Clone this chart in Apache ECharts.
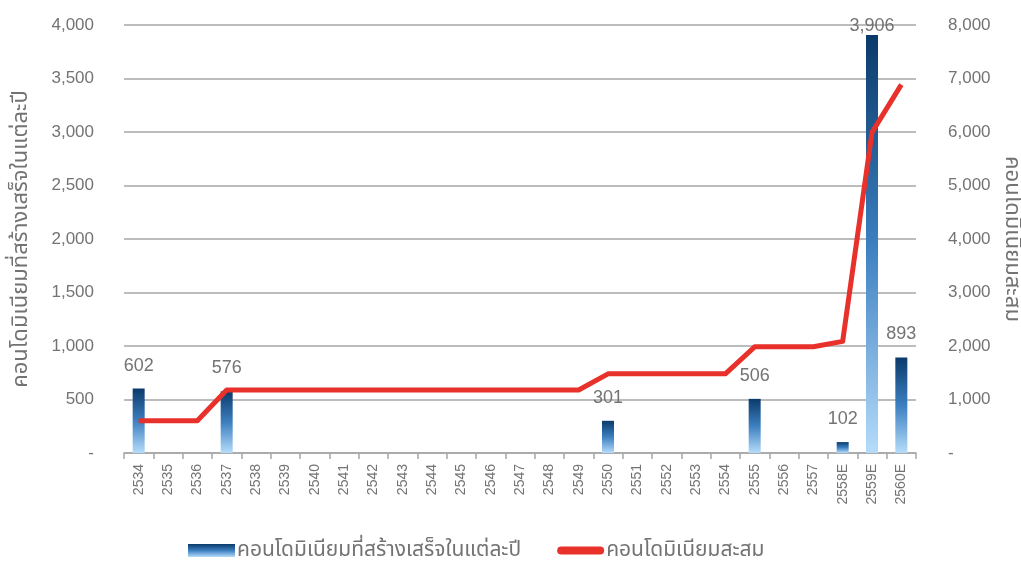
<!DOCTYPE html>
<html>
<head>
<meta charset="utf-8">
<script src="https://cdn.jsdelivr.net/npm/echarts@6/dist/echarts.min.js"></script>
<style>
  html, body { margin: 0; padding: 0; background: #fff; }
  #chart { width: 1021px; height: 565px; }
</style>
</head>
<body>
<div id="chart"></div>
<script>
// Years (Buddhist Era); E = estimate
const years = ['2534','2535','2536','2537','2538','2539','2540','2541','2542','2543','2544','2545','2546','2547','2548','2549','2550','2551','2552','2553','2554','2555','2556','2557','2558E','2559E','2560E'];
// Condominiums completed each year
const completed = [602,0,0,576,0,0,0,0,0,0,0,0,0,0,0,0,301,0,0,0,0,506,0,0,102,3906,893];
// Cumulative condominiums
const cumulative = [602,602,602,1178,1178,1178,1178,1178,1178,1178,1178,1178,1178,1178,1178,1178,1479,1479,1479,1479,1479,1985,1985,1985,2087,5993,6886];

const seriesNames = ['คอนโดมิเนียมที่สร้างเสร็จในแต่ละปี', 'คอนโดมิเนียมสะสม'];

const FONT = '"Liberation Sans", Arial, "Noto Sans Thai", "Noto Sans", sans-serif';
const TEXT = '#737373';
const GRID = '#a6a6a6';

const fmt = v => v === 0 ? '-' : v.toLocaleString('en-US');
const peak = Math.max(...completed);

const chart = echarts.init(document.getElementById('chart'));
chart.setOption({
  animation: false,
  textStyle: { fontFamily: FONT },
  grid: { left: 124, right: 105, top: 25, bottom: 112, outerBoundsMode: 'none', containLabel: false },
  legend: {
    bottom: -1,
    left: 183,
    itemGap: 36,
    itemWidth: 47,
    itemHeight: 13,
    textStyle: { fontSize: 21, color: TEXT, fontFamily: FONT, padding: [0, 0, 0, -3] },
    data: [
      { name: seriesNames[0], icon: 'rect' },
      { name: seriesNames[1], icon: 'path://M4,0 H43 A4,4 0 0 1 43,8 H4 A4,4 0 0 1 4,0 Z' }
    ]
  },
  xAxis: {
    type: 'category',
    data: years,
    axisLine: { lineStyle: { color: GRID, width: 1.5 } },
    axisTick: { show: true, length: 6, lineStyle: { color: GRID, width: 1.5 } },
    axisLabel: { rotate: 90, color: TEXT, fontSize: 14, margin: 11 },
    splitLine: { show: false }
  },
  yAxis: [
    {
      type: 'value', min: 0, max: 4000, interval: 500,
      name: seriesNames[0],
      nameLocation: 'middle', nameRotate: 90, nameGap: 92,
      nameTextStyle: { color: TEXT, fontSize: 22 },
      axisLine: { show: false },
      axisTick: { show: false },
      axisLabel: { color: TEXT, fontSize: 17, margin: 30, formatter: fmt },
      splitLine: { lineStyle: { color: GRID, width: 1.5 } }
    },
    {
      type: 'value', min: 0, max: 8000, interval: 1000,
      name: seriesNames[1],
      nameLocation: 'middle', nameRotate: -90, nameGap: 82,
      nameTextStyle: { color: TEXT, fontSize: 22 },
      axisLine: { show: false },
      axisTick: { show: false },
      axisLabel: { color: TEXT, fontSize: 17, margin: 32, formatter: fmt },
      splitLine: { show: false }
    }
  ],
  series: [
    {
      name: seriesNames[0],
      type: 'bar',
      yAxisIndex: 0,
      barWidth: 12,
      // the tallest bar's label sits tight against the top of the plot
      data: completed.map(v => v === 0 ? null : (v === peak ? { value: v, label: { distance: 0 } } : v)),
      itemStyle: {
        color: new echarts.graphic.LinearGradient(0, 0, 0, 1, [
          { offset: 0, color: '#0b3a6a' },
          { offset: 0.5, color: '#3c7fc0' },
          { offset: 1, color: '#b5dcfa' }
        ])
      },
      label: {
        show: true, position: 'top', distance: 14,
        color: TEXT, fontSize: 18, formatter: p => fmt(p.value)
      },
      z: 2
    },
    {
      name: seriesNames[1],
      type: 'line',
      yAxisIndex: 1,
      data: cumulative,
      symbol: 'none',
      lineStyle: { color: '#e8312a', width: 5, join: 'round' },
      itemStyle: { color: '#e8312a' },
      z: 3
    }
  ]
});
</script>
</body>
</html>
